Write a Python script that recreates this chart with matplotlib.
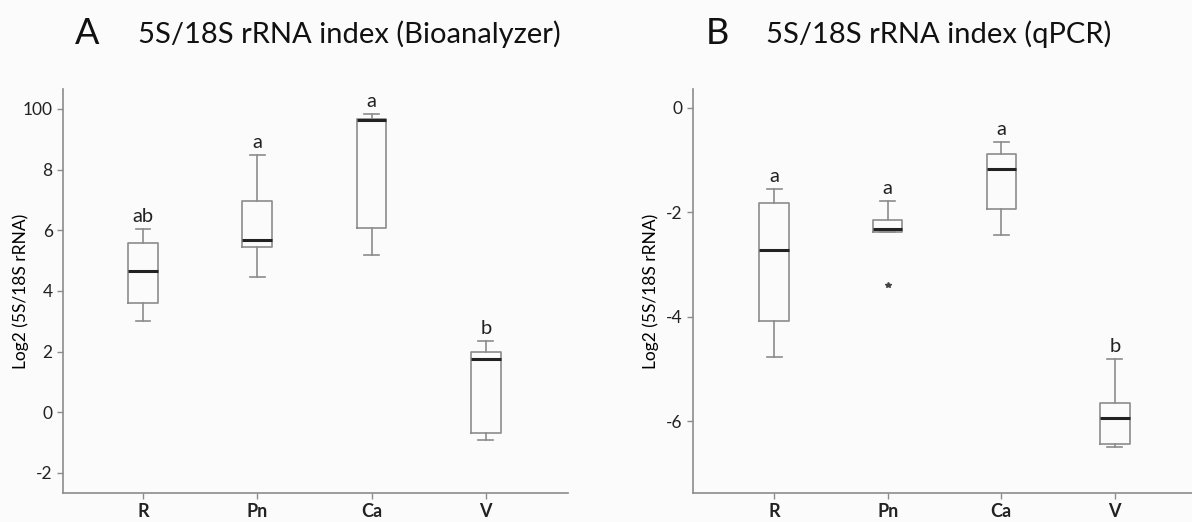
import matplotlib
matplotlib.use("Agg")
import matplotlib.pyplot as plt

plt.rcParams['font.family'] = ['Lato', 'DejaVu Sans']

groups = ["R", "Pn", "Ca", "V"]

# Panel A - Bioanalyzer (whisker low, q1, median, q3, whisker high)
a_whislo = [3.01, 4.47, 5.19, -0.91]
a_q1 = [3.59, 5.46, 6.09, -0.67]
a_med = [4.66, 5.68, 9.62, 1.76]
a_q3 = [5.57, 6.97, 9.66, 2.00]
a_whishi = [6.03, 8.47, 9.84, 2.36]
a_letters = ["ab", "a", "a", "b"]
a_ticks = [-2, 0, 2, 4, 6, 8, 10]
a_ticklabels = ["-2", "0", "2", "4", "6", "8", "100"]

# Panel B - qPCR
b_whislo = [-4.76, -2.38, -2.43, -6.49]
b_q1 = [-4.08, -2.38, -1.93, -6.44]
b_med = [-2.73, -2.31, -1.17, -5.93]
b_q3 = [-1.83, -2.14, -0.88, -5.65]
b_whishi = [-1.55, -1.78, -0.65, -4.81]
b_fliers = [[], [-3.40], [], []]
b_letters = ["a", "a", "a", "b"]
b_ticks = [-6, -4, -2, 0]

gray = "#8c8c8c"
bg = "#fbfbfb"


def make_stats(lo, q1, med, q3, hi, fliers=None):
    stats = []
    for i in range(len(lo)):
        stats.append(dict(whislo=lo[i], q1=q1[i], med=med[i], q3=q3[i],
                          whishi=hi[i], fliers=fliers[i] if fliers else []))
    return stats


def draw_panel(ax, stats, letters, ylim, ticks, ticklabels, xlim, label_x):
    pos = list(range(1, len(groups) + 1))
    ax.bxp(stats, positions=pos, widths=0.26, showfliers=True,
           boxprops=dict(color=gray, linewidth=1.2),
           whiskerprops=dict(color=gray, linewidth=1.2),
           capprops=dict(color=gray, linewidth=1.2),
           medianprops=dict(color="#222222", linewidth=2.2),
           flierprops=dict(marker="*", markersize=4, markerfacecolor="#444444",
                           markeredgecolor="#444444"),
           capwidths=0.13)
    for p, s, lab in zip(pos, stats, letters):
        ax.annotate(lab, (p, s["whishi"]), xytext=(0, 3), textcoords="offset points",
                    ha="center", va="bottom", fontsize=14.5, color="#222222")
    ax.set_xlim(*xlim)
    ax.set_ylim(*ylim)
    ax.set_xticks(pos)
    ax.set_xticklabels(groups, fontweight="bold", fontsize=13)
    ax.set_yticks(ticks)
    ax.set_yticklabels(ticklabels, fontsize=12.5)
    ax.set_ylabel("Log2 (5S/18S rRNA)", fontsize=12.5)
    ax.yaxis.set_label_coords(label_x, 0.5)
    for side in ["top", "right"]:
        ax.spines[side].set_visible(False)
    for side in ["left", "bottom"]:
        ax.spines[side].set_color(gray)
        ax.spines[side].set_linewidth(1.2)
    ax.tick_params(colors=gray, labelcolor="#222222", length=4, width=1)
    ax.set_facecolor(bg)


fig = plt.figure(figsize=(11.92, 5.22), dpi=100, facecolor=bg)
ax1 = fig.add_axes([0.0529, 0.0556, 0.4237, 0.774])
ax2 = fig.add_axes([0.5814, 0.0556, 0.4186, 0.774])

draw_panel(ax1, make_stats(a_whislo, a_q1, a_med, a_q3, a_whishi), a_letters,
           (-2.66, 10.66), a_ticks, a_ticklabels, (0.3, 4.72), -0.067)
draw_panel(ax2, make_stats(b_whislo, b_q1, b_med, b_q3, b_whishi, b_fliers), b_letters,
           (-7.37, 0.36), b_ticks, [str(t) for t in b_ticks], (0.285, 4.68), -0.068)

fig.text(0.063, 0.935, "A", fontsize=26, ha="left", va="center", color="#111111")
fig.text(0.116, 0.935, "5S/18S rRNA index (Bioanalyzer)", fontsize=21,
         ha="left", va="center", color="#111111")
fig.text(0.592, 0.935, "B", fontsize=26, ha="left", va="center", color="#111111")
fig.text(0.643, 0.935, "5S/18S rRNA index (qPCR)", fontsize=21,
         ha="left", va="center", color="#111111")

fig.savefig("out.png", dpi=100, facecolor=bg)
